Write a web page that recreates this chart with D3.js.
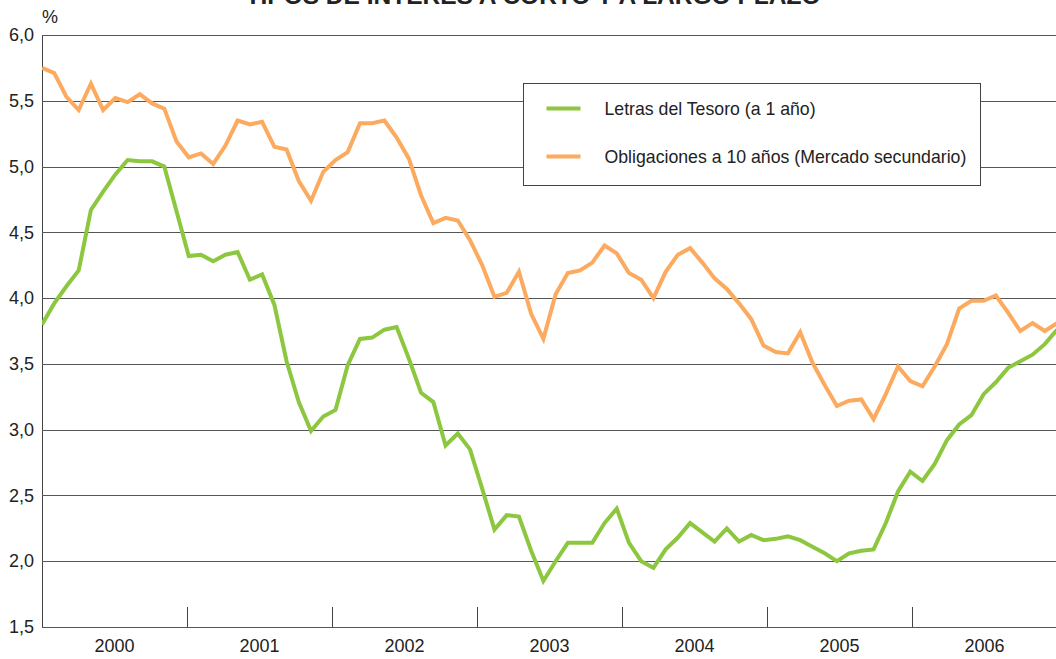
<!DOCTYPE html>
<html>
<head>
  <meta charset="utf-8">
  <title>Tipos de interés</title>
  <style>
    body { margin: 0; background: #fff; }
    text { font-family: "Liberation Sans", Arial, sans-serif; fill: #222; }
  </style>
</head>
<body>
  <script src="https://cdn.jsdelivr.net/npm/d3@7"></script>
  <script>
    // data, one value per month, Jan 2000 .. Dec 2006
    var years = ["2000", "2001", "2002", "2003", "2004", "2005", "2006"];
    var yTicks = [1.5, 2.0, 2.5, 3.0, 3.5, 4.0, 4.5, 5.0, 5.5, 6.0];
    var seriesNames = ["Letras del Tesoro (a 1 año)", "Obligaciones a 10 años (Mercado secundario)"];

    var letras = [
      3.80, 3.96, 4.09, 4.21, 4.67, 4.81, 4.94, 5.05, 5.04, 5.04, 5.00, 4.66,
      4.32, 4.33, 4.28, 4.33, 4.35, 4.14, 4.18, 3.95, 3.52, 3.21, 2.99, 3.10,
      3.15, 3.49, 3.69, 3.70, 3.76, 3.78, 3.54, 3.28, 3.21, 2.88, 2.97, 2.85,
      2.55, 2.24, 2.35, 2.34, 2.08, 1.85, 2.00, 2.14, 2.14, 2.14, 2.29, 2.40,
      2.14, 2.00, 1.95, 2.09, 2.18, 2.29, 2.22, 2.15, 2.25, 2.15, 2.20, 2.16,
      2.17, 2.19, 2.16, 2.11, 2.06, 2.00, 2.06, 2.08, 2.09, 2.29, 2.53, 2.68,
      2.61, 2.74, 2.92, 3.04, 3.11, 3.27, 3.36, 3.47, 3.52, 3.57, 3.65, 3.76
    ];

    var obligaciones = [
      5.75, 5.71, 5.53, 5.43, 5.63, 5.43, 5.52, 5.49, 5.55, 5.48, 5.44, 5.19,
      5.07, 5.10, 5.02, 5.16, 5.35, 5.32, 5.34, 5.15, 5.13, 4.89, 4.74, 4.96,
      5.05, 5.11, 5.33, 5.33, 5.35, 5.22, 5.06, 4.78, 4.57, 4.61, 4.59, 4.44,
      4.25, 4.01, 4.04, 4.20, 3.88, 3.69, 4.03, 4.19, 4.21, 4.27, 4.40, 4.34,
      4.19, 4.14, 4.00, 4.20, 4.33, 4.38, 4.27, 4.15, 4.07, 3.96, 3.84, 3.64,
      3.59, 3.58, 3.74, 3.51, 3.34, 3.18, 3.22, 3.23, 3.08, 3.27, 3.48, 3.37,
      3.33, 3.48, 3.65, 3.92, 3.98, 3.98, 4.02, 3.89, 3.75, 3.81, 3.75, 3.81
    ];

    var colors = ["#8dc63f", "#fbaa5f"];

    // dimensions
    var W = 1056, H = 659;
    var margin = {top: 35, right: 0, bottom: 32, left: 42};
    var width = W - margin.left - margin.right,
        height = H - margin.top - margin.bottom;

    var svg = d3.select("body").append("svg")
      .attr("width", W)
      .attr("height", H);

    var g = svg.append("g")
      .attr("transform", "translate(" + margin.left + "," + margin.top + ")");

    // scales
    var x = d3.scaleLinear().domain([0, letras.length - 1]).range([0, width + 1]);
    var y = d3.scaleLinear().domain([1.5, 6.0]).range([height, 0]);
    var xYear = d3.scaleBand().domain(years).range([0, width + 1]);

    // title (cut at the top, as in the original)
    svg.append("text")
      .attr("x", 533)
      .attr("y", 4)
      .attr("text-anchor", "middle")
      .style("font-size", "24.5px")
      .style("font-weight", "bold")
      .text("TIPOS DE INTERÉS A CORTO Y A LARGO PLAZO");

    svg.append("text")
      .attr("x", 42)
      .attr("y", 23)
      .style("font-size", "18px")
      .text("%");

    // y axis with gridlines
    var yAxis = g.append("g")
      .call(d3.axisLeft(y)
        .tickValues(yTicks)
        .tickSize(-width)
        .tickPadding(8)
        .tickFormat(function (d) { return d.toFixed(1).replace(".", ","); }));
    yAxis.select(".domain").attr("stroke", "#444");
    yAxis.selectAll(".tick line")
      .attr("stroke", "#555")
      .attr("shape-rendering", "crispEdges");
    yAxis.selectAll(".tick text")
      .style("font-size", "18px")
      .attr("fill", "#222");

    // x axis: year labels with separators
    var xAxis = g.append("g")
      .attr("transform", "translate(0," + height + ")")
      .call(d3.axisBottom(xYear).tickSize(0).tickPadding(12));
    xAxis.select(".domain").remove();
    xAxis.selectAll(".tick text")
      .style("font-size", "18px")
      .attr("fill", "#222");

    g.selectAll(".sep")
      .data(years.slice(1))
      .enter()
      .append("line")
      .attr("class", "sep")
      .attr("x1", function (d) { return Math.round(xYear(d)) + 0.5; })
      .attr("x2", function (d) { return Math.round(xYear(d)) + 0.5; })
      .attr("y1", height - 20)
      .attr("y2", height)
      .attr("stroke", "#444");

    // lines
    g.append("clipPath").attr("id", "clip")
      .append("rect").attr("width", width).attr("height", height);

    var line = d3.line()
      .x(function (d, i) { return x(i); })
      .y(function (d) { return y(d); });

    [obligaciones, letras].forEach(function (s, k) {
      g.append("path")
        .datum(s)
        .attr("clip-path", "url(#clip)")
        .attr("fill", "none")
        .attr("stroke", k === 0 ? colors[1] : colors[0])
        .attr("stroke-width", 4)
        .attr("stroke-linejoin", "miter")
        .attr("d", line);
    });

    // legend
    var lg = svg.append("g").attr("transform", "translate(523.5,83.5)");
    lg.append("rect")
      .attr("width", 457)
      .attr("height", 102)
      .attr("fill", "#fff")
      .attr("stroke", "#444");

    seriesNames.forEach(function (name, k) {
      var yy = 25 + k * 48;
      lg.append("line")
        .attr("x1", 23).attr("x2", 57)
        .attr("y1", yy).attr("y2", yy)
        .attr("stroke", colors[k])
        .attr("stroke-width", 4);
      lg.append("text")
        .attr("x", 81)
        .attr("y", yy + 6)
        .style("font-size", "17.7px")
        .text(name);
    });
  </script>
</body>
</html>
